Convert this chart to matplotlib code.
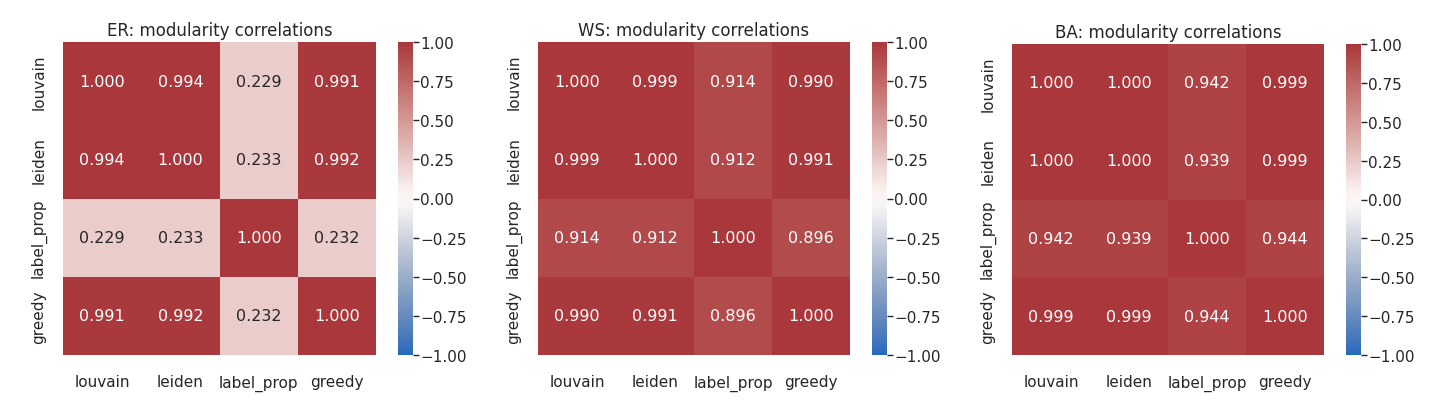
import numpy as np
import matplotlib
matplotlib.use("Agg")
import matplotlib.pyplot as plt
import seaborn as sns

methods = ["louvain", "leiden", "label_prop", "greedy"]

er_corr = [[1.000, 0.994, 0.229, 0.991],
           [0.994, 1.000, 0.233, 0.992],
           [0.229, 0.233, 1.000, 0.232],
           [0.991, 0.992, 0.232, 1.000]]
ws_corr = [[1.000, 0.999, 0.914, 0.990],
           [0.999, 1.000, 0.912, 0.991],
           [0.914, 0.912, 1.000, 0.896],
           [0.990, 0.991, 0.896, 1.000]]
ba_corr = [[1.000, 1.000, 0.942, 0.999],
           [1.000, 1.000, 0.939, 0.999],
           [0.942, 0.939, 1.000, 0.944],
           [0.999, 0.999, 0.944, 1.000]]

titles = ["ER: modularity correlations", "WS: modularity correlations",
          "BA: modularity correlations"]

sns.set_theme(style="white")

W, H = 1456, 414
fig = plt.figure(figsize=(W / 100, H / 100), dpi=100)

# pixel boxes: (left, top, right, bottom) for heatmap and colorbar
boxes = [((63, 43, 376, 356), (398, 43, 413, 356)),
         ((538, 43, 850, 356), (872, 43, 887, 356)),
         ((1012, 45, 1324, 356), (1346, 45, 1361, 356))]


def px_axes(b):
    l, t, r, bt = b
    return fig.add_axes([l / W, 1 - bt / H, (r - l) / W, (bt - t) / H])


for data, title, (hb, cb) in zip([er_corr, ws_corr, ba_corr], titles, boxes):
    ax = px_axes(hb)
    cax = px_axes(cb)
    sns.heatmap(np.array(data), ax=ax, cbar_ax=cax, cmap="vlag",
                vmin=-1, vmax=1, annot=True, fmt=".3f",
                annot_kws={"size": 11.5},
                xticklabels=methods, yticklabels=methods)
    ax.set_title(title, fontsize=12, pad=5)
    ax.tick_params(axis="x", labelsize=11, pad=8)
    ax.tick_params(axis="y", labelsize=11, pad=6)
    ax.set_yticklabels(methods, rotation=90, va="center")
    ax.set_xticklabels(methods, rotation=0)
    cax.tick_params(labelsize=11, length=4, width=1, right=True, pad=1)

fig.savefig("out.png", dpi=100)
